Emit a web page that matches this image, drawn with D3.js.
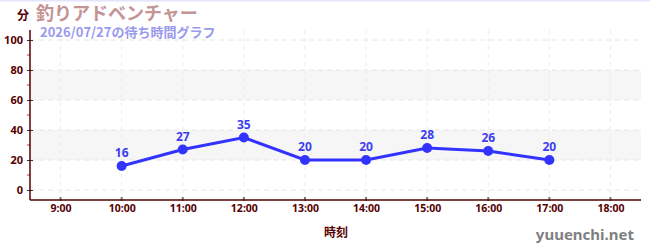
<!DOCTYPE html>
<html><head><meta charset="utf-8">
<script src="https://cdn.jsdelivr.net/npm/d3@7"></script>
<style>body{margin:0;background:#fff}svg{display:block;font-family:"Noto Sans CJK JP","Noto Sans",sans-serif}</style>
</head><body><svg id="c" width="650" height="250"></svg>
<script>
const hours = [9,10,11,12,13,14,15,16,17,18];
const tickLabels = ["9:00","10:00","11:00","12:00","13:00","14:00","15:00","16:00","17:00","18:00"];
const times = [10,11,12,13,14,15,16,17];
const waits = [16,27,35,20,20,28,26,20];
const yTicks = [0,20,40,60,80,100];
const yMinor = [10,30,50,70,90];
const bands = [[20,40],[60,80]];

const svg = d3.select("#c");
const L=30,R=641,T=30,B=200;
const x = d3.scaleLinear().domain([8.5,18.5]).range([L,R]);
const y = d3.scaleLinear().domain([-20/3,320/3]).range([B,T]);
const axisCol="#550000";

svg.append("rect").attr("x",0).attr("y",0).attr("width",650).attr("height",1.5).attr("fill","#e4e4fb");

svg.selectAll(".band").data(bands).enter().append("rect")
  .attr("x",L).attr("width",R-L).attr("y",d=>y(d[1])).attr("height",d=>y(d[0])-y(d[1])).attr("fill","#f6f6f6");

svg.selectAll(".hg").data(yTicks).enter().append("line")
  .attr("x1",L).attr("x2",R).attr("y1",d=>y(d)).attr("y2",d=>y(d))
  .attr("stroke","#e6e6e6").attr("stroke-dasharray","5,4");
svg.selectAll(".vg").data(hours).enter().append("line")
  .attr("x1",d=>x(d)).attr("x2",d=>x(d)).attr("y1",T).attr("y2",B)
  .attr("stroke","#ececec").attr("stroke-dasharray","4,4");

// y axis
const ya = svg.append("g").attr("transform",`translate(${L},0)`)
  .call(d3.axisLeft(y).tickValues(yTicks).tickSize(3).tickPadding(3));
ya.select(".domain").remove();
ya.selectAll(".tick line").attr("x1",-3).attr("x2",3).attr("stroke","#333");
ya.selectAll("text").attr("fill",axisCol).attr("font-size",11).attr("font-weight","bold").attr("font-family","'Noto Sans','DejaVu Sans',sans-serif").attr("dx",-1);
svg.selectAll(".mn").data(yMinor).enter().append("line")
  .attr("x1",L-3).attr("x2",L).attr("y1",d=>y(d)).attr("y2",d=>y(d)).attr("stroke","#dd2222");
svg.append("line").attr("x1",L).attr("x2",L).attr("y1",T).attr("y2",B).attr("stroke",axisCol).attr("stroke-width",1.5);

// x axis
const xa = svg.append("g").attr("transform",`translate(0,${B})`)
  .call(d3.axisBottom(x).tickValues(hours).tickFormat((d,i)=>tickLabels[i]).tickSize(0).tickPadding(5));
xa.select(".domain").remove();
xa.selectAll(".tick line").remove();
xa.selectAll("text").attr("fill",axisCol).attr("font-size",10.5).attr("font-weight","bold").attr("font-family","'Noto Sans','DejaVu Sans',sans-serif");
svg.selectAll(".xt").data(hours).enter().append("line")
  .attr("x1",d=>x(d)).attr("x2",d=>x(d)).attr("y1",B-3).attr("y2",B+1).attr("stroke","#777").attr("stroke-width",2);
svg.append("line").attr("x1",L).attr("x2",R).attr("y1",B).attr("y2",B).attr("stroke",axisCol).attr("stroke-width",1.5);

// line
const pts = times.map((t,i)=>[t,waits[i]]);
svg.append("path").datum(pts).attr("fill","none").attr("stroke","#3333ff").attr("stroke-width",3)
  .attr("d",d3.line().x(d=>x(d[0])).y(d=>y(d[1])));
svg.selectAll(".pt").data(pts).enter().append("circle")
  .attr("cx",d=>x(d[0])).attr("cy",d=>y(d[1])).attr("r",5).attr("fill","#3333ff");
svg.selectAll(".lb").data(pts).enter().append("text")
  .attr("x",d=>x(d[0])).attr("y",d=>y(d[1])-9).attr("text-anchor","middle")
  .attr("fill","#3d3df0").attr("font-size",12).attr("font-weight","bold")
  .attr("font-family","'Noto Sans','DejaVu Sans',sans-serif").text(d=>d[1]);

// titles
svg.append("text").attr("x",17).attr("y",20).attr("fill",axisCol).attr("font-size",12).attr("font-weight","bold").text("分");
svg.append("text").attr("x",36).attr("y",20).attr("fill","#c49494").attr("font-size",18).attr("font-weight","bold").text("釣りアドベンチャー");
svg.append("text").attr("x",40).attr("y",37).attr("fill","#9999ee").attr("font-size",13).attr("font-weight","bold").text("2026/07/27の待ち時間グラフ");
svg.append("text").attr("x",336).attr("y",237).attr("text-anchor","middle").attr("fill",axisCol).attr("font-size",12).attr("font-weight","bold").text("時刻");
svg.append("text").attr("x",634).attr("y",240).attr("text-anchor","end").attr("fill","#808080").attr("font-size",15).attr("font-weight","bold").attr("font-family","'Noto Sans','DejaVu Sans',sans-serif").text("yuuenchi.net");
</script></body></html>
